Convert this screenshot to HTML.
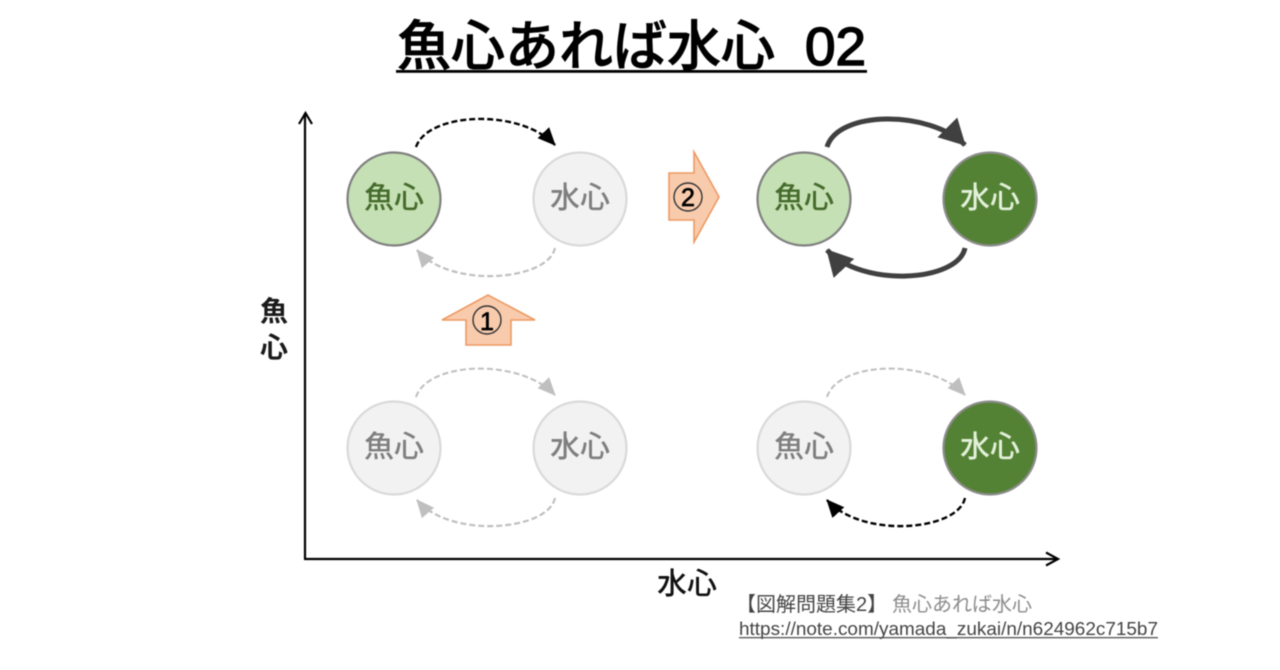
<!DOCTYPE html>
<html lang="ja">
<head>
<meta charset="utf-8">
<style>
html,body{margin:0;padding:0;background:#fff;width:1280px;height:670px;overflow:hidden}
svg{display:block;filter:blur(0.55px)}
text{font-family:"Liberation Sans","Noto Sans CJK JP",sans-serif}
</style>
</head>
<body>
<svg width="1280" height="670" viewBox="0 0 1280 670" xmlns="http://www.w3.org/2000/svg">
<defs>
<marker id="hK" markerUnits="userSpaceOnUse" markerWidth="22" markerHeight="20" refX="17" refY="8" orient="auto"><path d="M0 0L18 8L0 16Z" fill="#000"/></marker>
<marker id="hG" markerUnits="userSpaceOnUse" markerWidth="22" markerHeight="20" refX="17" refY="8" orient="auto"><path d="M0 0L18 8L0 16Z" fill="#bfbfbf"/></marker>
<marker id="hD" markerUnits="userSpaceOnUse" markerWidth="34" markerHeight="34" refX="25" refY="14" orient="auto"><path d="M0 0L26 14L0 28Z" fill="#404040"/></marker>
</defs>

<text x="397" y="65" font-size="54" font-weight="500" fill="#000" stroke="#000" stroke-width="0.7">魚心あれば水心</text>
<text x="805" y="65" font-size="54" fill="#000" stroke="#000" stroke-width="1.6" textLength="61" lengthAdjust="spacingAndGlyphs">02</text>
<rect x="396" y="70" width="471" height="2.8" fill="#000"/>

<!-- axes -->
<path d="M305 559V113" stroke="#000" stroke-width="2.2" fill="none"/>
<path d="M299 124L305.500 113L312 124" stroke="#000" stroke-width="2.2" fill="none"/>
<path d="M304 559H1058" stroke="#000" stroke-width="2.2" fill="none"/>
<path d="M1046 552.500L1058 559L1046 565.500" stroke="#000" stroke-width="2.2" fill="none"/>
<text x="260" y="321" font-size="28" font-weight="700" fill="#1a1a1a">魚</text>
<text x="260" y="357" font-size="28" font-weight="700" fill="#1a1a1a">心</text>
<text x="657" y="594" font-size="30" font-weight="500" fill="#111">水心</text>

<!-- top-left -->
<path d="M416 147C428 112 520 108 555 145" fill="none" stroke="#000" stroke-width="2.400" stroke-dasharray="6 3" marker-end="url(#hK)"/>
<path d="M555 248C548 281 450 289 417 250" fill="none" stroke="#bfbfbf" stroke-width="2.200" stroke-dasharray="6 3" marker-end="url(#hG)"/>
<circle cx="394" cy="199" r="46.500" fill="#c5e0b4" stroke="#7f7f7f" stroke-width="2.200"/>
<text x="394" y="208" text-anchor="middle" font-size="30" font-weight="500" fill="#456b2c">魚心</text>
<circle cx="580" cy="199" r="46.500" fill="#f2f2f2" stroke="#d9d9d9" stroke-width="2.200"/>
<text x="580" y="208" text-anchor="middle" font-size="30" font-weight="500" fill="#7f7f7f">水心</text>

<!-- top-right -->
<path d="M827 147C838 110 930 110 965 145" fill="none" stroke="#404040" stroke-width="5" marker-end="url(#hD)"/>
<path d="M965 248C958 282 862 288 827 250" fill="none" stroke="#404040" stroke-width="5" marker-end="url(#hD)"/>
<circle cx="804" cy="199" r="46.500" fill="#c5e0b4" stroke="#7f7f7f" stroke-width="2.200"/>
<text x="804" y="208" text-anchor="middle" font-size="30" font-weight="500" fill="#456b2c">魚心</text>
<circle cx="990" cy="199" r="46.500" fill="#548235" stroke="#8c8c8c" stroke-width="2.200"/>
<text x="990" y="208" text-anchor="middle" font-size="30" font-weight="500" fill="#e2f0d9">水心</text>

<!-- bottom-left -->
<path d="M416 397C428 361 520 358 555 395" fill="none" stroke="#bfbfbf" stroke-width="2" stroke-dasharray="6 3" marker-end="url(#hG)"/>
<path d="M555 498C548 531 450 539 417 500" fill="none" stroke="#bfbfbf" stroke-width="2.200" stroke-dasharray="6 3" marker-end="url(#hG)"/>
<circle cx="394" cy="448" r="46.500" fill="#f2f2f2" stroke="#d9d9d9" stroke-width="2.200"/>
<text x="394" y="457" text-anchor="middle" font-size="30" font-weight="500" fill="#7f7f7f">魚心</text>
<circle cx="580" cy="448" r="46.500" fill="#f2f2f2" stroke="#d9d9d9" stroke-width="2.200"/>
<text x="580" y="457" text-anchor="middle" font-size="30" font-weight="500" fill="#7f7f7f">水心</text>

<!-- bottom-right -->
<path d="M827 397C838 361 930 358 965 395" fill="none" stroke="#bfbfbf" stroke-width="2" stroke-dasharray="6 3" marker-end="url(#hG)"/>
<path d="M965 498C958 531 862 539 827 500" fill="none" stroke="#000" stroke-width="2.400" stroke-dasharray="6 3" marker-end="url(#hK)"/>
<circle cx="804" cy="448" r="46.500" fill="#f2f2f2" stroke="#d9d9d9" stroke-width="2.200"/>
<text x="804" y="457" text-anchor="middle" font-size="30" font-weight="500" fill="#7f7f7f">魚心</text>
<circle cx="990" cy="448" r="46.500" fill="#548235" stroke="#8c8c8c" stroke-width="2.200"/>
<text x="990" y="457" text-anchor="middle" font-size="30" font-weight="500" fill="#e2f0d9">水心</text>

<!-- block arrows -->
<path d="M442 320L488 295L535 320H511V345H466V320Z" fill="#f8cbad" stroke="#ed9a63" stroke-width="1.600" stroke-linejoin="miter"/>
<circle cx="487" cy="320" r="14" fill="none" stroke="#333" stroke-width="1.400"/>
<text x="487" y="330" text-anchor="middle" font-size="25" fill="#000" stroke="#000" stroke-width="0.7">1</text>
<path d="M669 173H694V152L719 197L694 242V220H669Z" fill="#f8cbad" stroke="#ed9a63" stroke-width="1.600" stroke-linejoin="miter"/>
<circle cx="688" cy="197" r="14" fill="none" stroke="#333" stroke-width="1.400"/>
<text x="688" y="206" text-anchor="middle" font-size="25" fill="#000" stroke="#000" stroke-width="0.7">2</text>

<!-- caption -->
<text x="736" y="611" font-size="20" fill="#444">【図解問題集2】</text>
<text x="892" y="611" font-size="20" fill="#8c8c8c">魚心あれば水心</text>
<text x="739" y="635" font-size="18" fill="#444" textLength="419" lengthAdjust="spacingAndGlyphs">https://note.com/yamada_zukai/n/n624962c715b7</text>
<rect x="739" y="637" width="419" height="1.300" fill="#555"/>
</svg>
</body>
</html>
